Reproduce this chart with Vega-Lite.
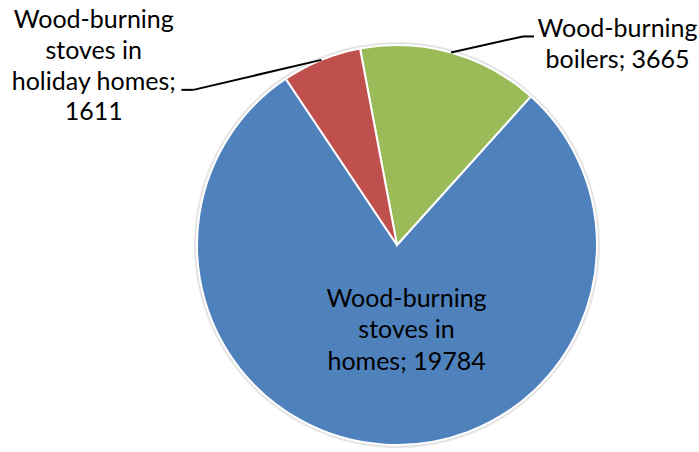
{
  "$schema": "https://vega.github.io/schema/vega-lite/v6.json",
  "width": 420,
  "height": 414,
  "autosize": "none",
  "padding": {"left": 187, "top": 38, "right": 92, "bottom": 0},
  "background": "white",
  "config": {"view": {"stroke": null}},
  "data": {
    "values": [
      {"category": "Wood-burning stoves in homes", "value": 19784},
      {"category": "Wood-burning boilers", "value": 3665},
      {"category": "Wood-burning stoves in holiday homes", "value": 1611}
    ]
  },
  "transform": [
    {"window": [{"op": "sum", "field": "value", "as": "cum"}], "sort": [{"field": "category", "order": "descending"}], "frame": [null, 0]},
    {"joinaggregate": [{"op": "sum", "field": "value", "as": "total"}]},
    {"calculate": "(datum.cum - datum.value) / datum.total", "as": "f0"},
    {"calculate": "datum.cum / datum.total", "as": "f1"},
    {"calculate": "(datum.cum - datum.value / 2) / datum.total", "as": "fm"},
    {"calculate": "0.733 + 2 * PI * datum.fm", "as": "ang"},
    {"calculate": "200 * sin(datum.ang)", "as": "sx"},
    {"calculate": "200 * cos(datum.ang)", "as": "sy"},
    {"calculate": "datum.sx + (sin(datum.ang) < 0 ? -128 : 72)", "as": "ex"},
    {"calculate": "datum.sy + (sin(datum.ang) < 0 ? -30 : 16)", "as": "ey"},
    {"calculate": "datum.ex + (sin(datum.ang) < 0 ? -12 : 11)", "as": "hx"}
  ],
  "layer": [
    {
      "mark": {"type": "arc", "outerRadius": 203, "fill": "#d4d4d4", "opacity": 0.6, "strokeWidth": 0},
      "encoding": {
        "theta": {"field": "f0", "type": "quantitative", "stack": false, "scale": {"domain": [0, 1], "range": [0.733, 7.0162]}},
        "theta2": {"field": "f1"}
      }
    },
    {
      "mark": {"type": "arc", "outerRadius": 200, "stroke": "#ffffff", "strokeWidth": 2},
      "encoding": {
        "theta": {"field": "f0", "type": "quantitative", "stack": false, "scale": {"domain": [0, 1], "range": [0.733, 7.0162]}},
        "theta2": {"field": "f1"},
        "color": {
          "field": "category",
          "type": "nominal",
          "scale": {
            "domain": ["Wood-burning stoves in homes", "Wood-burning boilers", "Wood-burning stoves in holiday homes"],
            "range": ["#4F81BD", "#9BBB59", "#C0504D"]
          },
          "legend": null
        }
      }
    },
    {
      "transform": [
        {"filter": "datum.category != 'Wood-burning stoves in homes'"}
      ],
      "mark": {"type": "rule", "color": "#000000", "strokeWidth": 2},
      "encoding": {
        "x": {"field": "sx", "type": "quantitative", "scale": {"domain": [-210, 210], "zero": false, "nice": false}, "axis": null},
        "y": {"field": "sy", "type": "quantitative", "scale": {"domain": [-207, 207], "zero": false, "nice": false}, "axis": null},
        "x2": {"field": "ex"},
        "y2": {"field": "ey"}
      }
    },
    {
      "transform": [
        {"filter": "datum.category != 'Wood-burning stoves in homes'"}
      ],
      "mark": {"type": "rule", "color": "#000000", "strokeWidth": 2},
      "encoding": {
        "x": {"field": "ex", "type": "quantitative", "scale": {"domain": [-210, 210], "zero": false, "nice": false}, "axis": null},
        "y": {"field": "ey", "type": "quantitative", "scale": {"domain": [-207, 207], "zero": false, "nice": false}, "axis": null},
        "x2": {"field": "hx"},
        "y2": {"field": "ey"}
      }
    },
    {
      "transform": [
        {"filter": "datum.category == 'Wood-burning stoves in homes'"},
        {"calculate": "'Wood-burning|stoves in|homes; ' + datum.value", "as": "lbl"}
      ],
      "mark": {"type": "text", "radius": 62, "dx": 14, "dy": 0, "align": "center", "baseline": "alphabetic", "font": "Lato", "fontSize": 25, "lineHeight": 31.5, "lineBreak": "|", "color": "#000000"},
      "encoding": {
        "theta": {"field": "fm", "type": "quantitative", "stack": false, "scale": {"domain": [0, 1], "range": [0.733, 7.0162]}},
        "text": {"field": "lbl", "type": "nominal"}
      }
    },
    {
      "transform": [
        {"filter": "datum.category == 'Wood-burning stoves in holiday homes'"},
        {"calculate": "'Wood-burning|stoves in|holiday homes;|' + datum.value", "as": "lbl"}
      ],
      "mark": {"type": "text", "radius": 200, "dx": -227.6, "dy": -31.5, "align": "center", "baseline": "alphabetic", "font": "Lato", "fontSize": 25, "lineHeight": 30.6, "lineBreak": "|", "color": "#000000"},
      "encoding": {
        "theta": {"field": "fm", "type": "quantitative", "stack": false, "scale": {"domain": [0, 1], "range": [0.733, 7.0162]}},
        "text": {"field": "lbl", "type": "nominal"}
      }
    },
    {
      "transform": [
        {"filter": "datum.category == 'Wood-burning boilers'"},
        {"calculate": "'Wood-burning|boilers; ' + datum.value", "as": "lbl"}
      ],
      "mark": {"type": "text", "radius": 200, "dx": 166.5, "dy": -15.7, "align": "center", "baseline": "alphabetic", "font": "Lato", "fontSize": 25, "lineHeight": 31, "lineBreak": "|", "color": "#000000"},
      "encoding": {
        "theta": {"field": "fm", "type": "quantitative", "stack": false, "scale": {"domain": [0, 1], "range": [0.733, 7.0162]}},
        "text": {"field": "lbl", "type": "nominal"}
      }
    }
  ]
}
